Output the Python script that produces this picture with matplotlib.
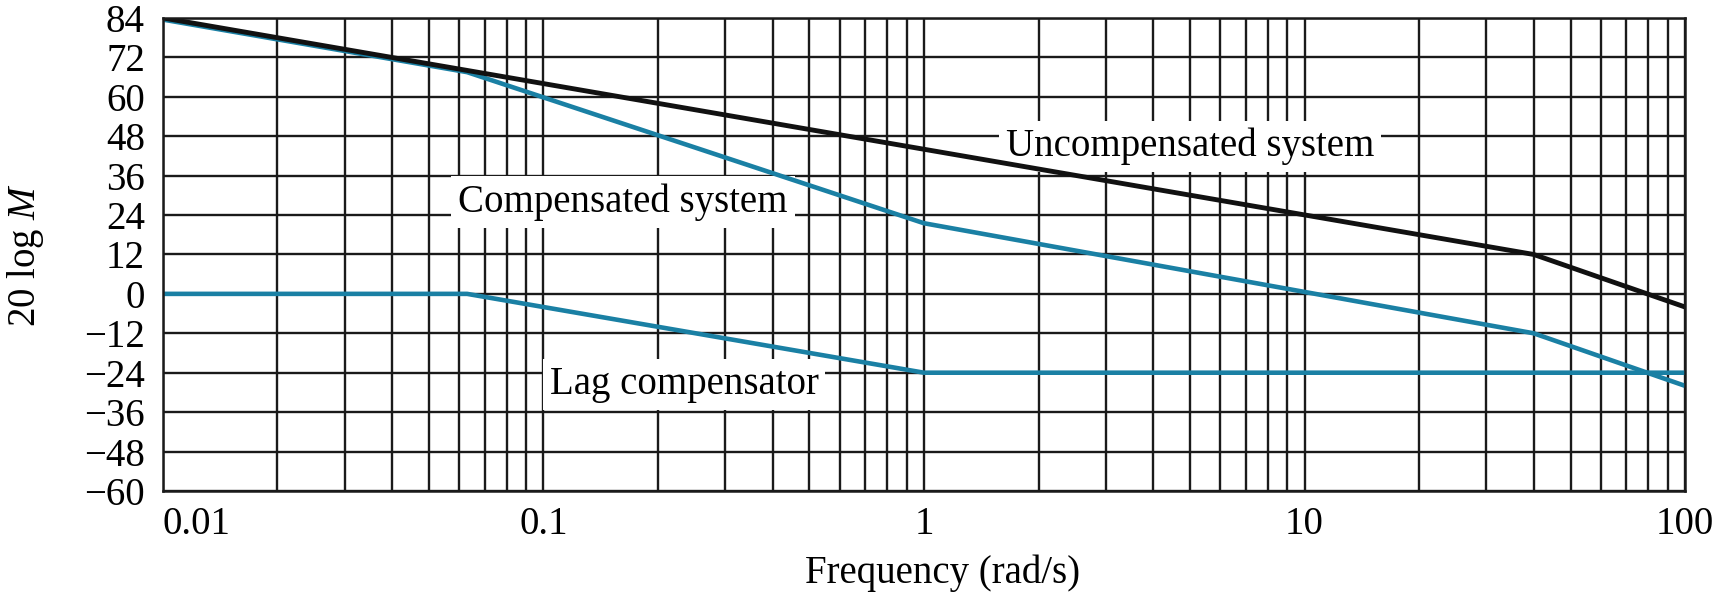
import numpy as np
import matplotlib.pyplot as plt
from matplotlib.ticker import FixedLocator, NullFormatter

plt.rcParams['font.family'] = ['Liberation Serif', 'DejaVu Serif']
plt.rcParams['mathtext.fontset'] = 'custom'
plt.rcParams['mathtext.it'] = 'Liberation Serif:italic'
plt.rcParams['mathtext.rm'] = 'Liberation Serif'

# asymptotic magnitude curves (corner frequencies in rad/s, magnitude in dB)
w_uncomp = [0.01, 40, 100]
db_uncomp = [84, 12, -4]

w_comp = [0.01, 0.063, 1, 40, 100]
db_comp = [83.5, 67.5, 21.5, -12, -28]

w_lag = [0.01, 0.063, 1, 100]
db_lag = [0, 0, -24, -24]

yticks = list(range(-60, 85, 12))
xticks = [0.01, 0.1, 1, 10, 100]
xtick_labels = ['0.01', '0.1', '1', '10', '100']

blue = '#1a80a4'
fs = 28

fig = plt.figure(figsize=(17.17, 5.98), dpi=100)
ax = fig.add_axes([0.0949, 0.179, 0.8865, 0.791])

ax.plot(w_lag, db_lag, color=blue, lw=3.3, zorder=2, solid_capstyle='butt')
ax.plot(w_comp, db_comp, color=blue, lw=3.3, zorder=2, solid_capstyle='butt')
ax.plot(w_uncomp, db_uncomp, color='#111111', lw=3.5, zorder=2.1, solid_capstyle='butt')

ax.set_xscale('log')
ax.set_xlim(0.01, 100)
ax.set_ylim(-60, 84)
ax.set_yticks(yticks)
ax.set_xticks(xticks)
ax.set_xticklabels(xtick_labels)
minor = [m * 10.0**e for e in range(-2, 2) for m in range(2, 10)]
ax.xaxis.set_minor_locator(FixedLocator(minor))
ax.xaxis.set_minor_formatter(NullFormatter())

ax.set_axisbelow(True)
ax.grid(which='both', color='#1a1a1a', lw=1.7)
ax.tick_params(which='both', length=0, labelsize=fs)
ax.tick_params(axis='x', pad=11)
ax.tick_params(axis='y', pad=13)
ax.get_xticklabels()[0].set_ha('left')
for s in ax.spines.values():
    s.set_color('#1a1a1a')
    s.set_linewidth(1.8)

ax.set_xlabel('Frequency (rad/s)', fontsize=fs)
ax.set_ylabel('20 log $M$', fontsize=fs)
ax.xaxis.set_label_coords(0.5125, -0.135)
ax.yaxis.set_label_coords(-0.077, 0.5)

box = dict(boxstyle='square,pad=0.18', fc='white', ec='none')
ax.text(5.0, 44.8, 'Uncompensated system', fontsize=fs, ha='center', va='center',
        bbox=box, zorder=1.5)
ax.text(0.162, 28, 'Compensated system', fontsize=fs, ha='center', va='center',
        bbox=box, zorder=1.5)
ax.text(0.234, -27.6, 'Lag compensator', fontsize=fs, ha='center', va='center',
        bbox=box, zorder=1.5)

fig.savefig('out.png', dpi=100)
